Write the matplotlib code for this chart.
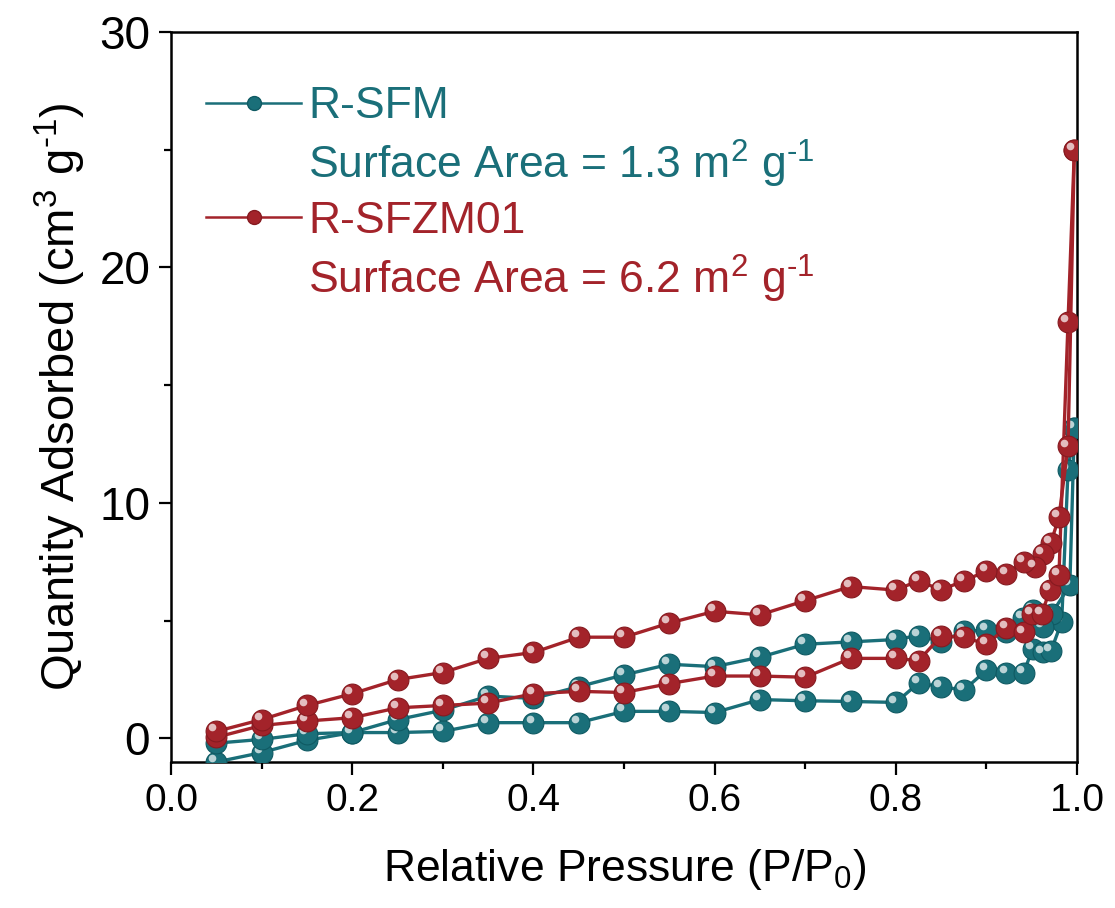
import matplotlib
matplotlib.use("Agg")
import matplotlib.pyplot as plt
from matplotlib.lines import Line2D
from matplotlib.transforms import ScaledTranslation

plt.rcParams['font.family'] = ['Liberation Sans', 'DejaVu Sans']
plt.rcParams['mathtext.default'] = 'regular'

# ---------------- data ----------------
# R-SFM adsorption branch
sfm_ads_x = [0.05, 0.10, 0.15, 0.20, 0.25, 0.30, 0.35, 0.40, 0.45, 0.50, 0.55, 0.60, 0.65, 0.70,
             0.75, 0.80, 0.825, 0.85, 0.875, 0.90, 0.922, 0.941, 0.951, 0.962, 0.971, 0.983, 0.990, 0.997]
sfm_ads_y = [-1.0, -0.6, -0.08, 0.25, 0.25, 0.3, 0.67, 0.67, 0.67, 1.15, 1.15, 1.1, 1.65, 1.6,
             1.57, 1.53, 2.35, 2.2, 2.05, 2.9, 2.8, 2.8, 3.8, 3.65, 3.7, 4.95, 11.4, 13.2]
# R-SFM desorption branch
sfm_des_x = [0.997, 0.992, 0.972, 0.962, 0.951, 0.940, 0.922, 0.90, 0.875, 0.85, 0.825, 0.80, 0.75,
             0.70, 0.65, 0.60, 0.55, 0.50, 0.45, 0.40, 0.35, 0.30, 0.25, 0.20, 0.15, 0.10, 0.05]
sfm_des_y = [13.2, 6.5, 5.3, 4.75, 5.45, 5.1, 4.5, 4.6, 4.55, 4.1, 4.37, 4.2, 4.1,
             4.0, 3.45, 3.05, 3.15, 2.7, 2.2, 1.7, 1.8, 1.2, 0.8, 0.25, 0.2, -0.04, -0.2]

# R-SFZM01 adsorption branch
sfzm_ads_x = [0.05, 0.10, 0.15, 0.20, 0.25, 0.30, 0.35, 0.40, 0.45, 0.50, 0.55, 0.60, 0.65, 0.70,
              0.75, 0.80, 0.825, 0.85, 0.875, 0.90, 0.922, 0.941, 0.950, 0.961, 0.970, 0.980, 0.990, 0.997]
sfzm_ads_y = [0.05, 0.55, 0.74, 0.88, 1.3, 1.4, 1.5, 1.9, 2.0, 1.95, 2.33, 2.65, 2.65, 2.6,
              3.4, 3.4, 3.3, 4.35, 4.3, 4.0, 4.7, 4.5, 5.3, 5.3, 6.3, 6.95, 17.7, 25.0]
# R-SFZM01 desorption branch
sfzm_des_x = [0.997, 0.990, 0.980, 0.971, 0.962, 0.953, 0.941, 0.922, 0.90, 0.875, 0.85, 0.825, 0.80,
              0.75, 0.70, 0.65, 0.60, 0.55, 0.50, 0.45, 0.40, 0.35, 0.30, 0.25, 0.20, 0.15, 0.10, 0.05]
sfzm_des_y = [25.0, 12.4, 9.4, 8.3, 7.85, 7.3, 7.5, 7.0, 7.1, 6.7, 6.3, 6.7, 6.3,
              6.45, 5.85, 5.25, 5.4, 4.9, 4.3, 4.3, 3.65, 3.4, 2.8, 2.5, 1.9, 1.4, 0.8, 0.3]

series_names = ['R-SFM', 'R-SFZM01']
surface_areas = ['1.3', '6.2']
x_ticks = [0.0, 0.2, 0.4, 0.6, 0.8, 1.0]
y_ticks = [0, 10, 20, 30]

HY = '\u2010'  # typographic hyphen for the "-1" exponent

TEAL = '#1a6f79'
TEAL_EDGE = '#0f5a63'
RED = '#a3232a'
RED_EDGE = '#861a20'

fig = plt.figure(figsize=(11.15, 9.08), dpi=100)
ax = fig.add_axes([0.1534, 0.1608, 0.8126, 0.804])

hl_offset = ScaledTranslation(-2.8 / 72, 2.8 / 72, fig.dpi_scale_trans)


def sphere_line(x, y, color, edge, z):
    ax.plot(x, y, '-', color=color, lw=2.4, marker='o', ms=15, mfc=color,
            mec=edge, mew=0.8, zorder=z, clip_on=True)
    ax.plot(x, y, ls='none', marker='o', ms=5.5, mfc='white', mec='none', alpha=0.7,
            transform=ax.transData + hl_offset, zorder=z + 0.1)


sphere_line(sfm_ads_x, sfm_ads_y, TEAL, TEAL_EDGE, 3)
sphere_line(sfm_des_x, sfm_des_y, TEAL, TEAL_EDGE, 3.2)
sphere_line(sfzm_ads_x, sfzm_ads_y, RED, RED_EDGE, 3.4)
sphere_line(sfzm_des_x, sfzm_des_y, RED, RED_EDGE, 3.6)

ax.set_xlim(0.0, 1.0)
ax.set_ylim(-1, 30)
ax.set_xticks(x_ticks)
ax.set_xticklabels([f'{v:.1f}' for v in x_ticks])
ax.set_yticks(y_ticks)
ax.set_xticks([0.1, 0.3, 0.5, 0.7, 0.9], minor=True)
ax.set_yticks([5, 15, 25], minor=True)
ax.tick_params(which='both', direction='out', width=1.6, top=False, right=False)
ax.tick_params(which='major', length=9, pad=6)
ax.tick_params(axis='x', which='major', labelsize=28)
ax.tick_params(axis='y', which='major', labelsize=33)
ax.tick_params(which='minor', length=5)
for s in ax.spines.values():
    s.set_linewidth(1.8)

ax.set_xlabel('Relative Pressure (P/P$_0$)', fontsize=32, labelpad=20)
ax.set_ylabel(f'Quantity Adsorbed (cm$^3$ g$^{{{HY}1}}$)', fontsize=34, labelpad=8)

handles = [
    Line2D([], [], color=TEAL, lw=1.8, marker='o', ms=10, mfc=TEAL, mec=TEAL_EDGE),
    Line2D([], [], color='none'),
    Line2D([], [], color=RED, lw=1.8, marker='o', ms=10, mfc=RED, mec=RED_EDGE),
    Line2D([], [], color='none'),
]
labels = [series_names[0], f'Surface Area = {surface_areas[0]} m$^2$ g$^{{{HY}1}}$',
          series_names[1], f'Surface Area = {surface_areas[1]} m$^2$ g$^{{{HY}1}}$']
leg = ax.legend(handles, labels, loc='upper left', bbox_to_anchor=(0.009, 0.962),
                frameon=False, fontsize=32, handlelength=2.15, handletextpad=0.15,
                labelspacing=0.24, borderaxespad=0.2)
for t, c in zip(leg.get_texts(), [TEAL, TEAL, RED, RED]):
    t.set_color(c)

fig.savefig('out.png', dpi=100)
